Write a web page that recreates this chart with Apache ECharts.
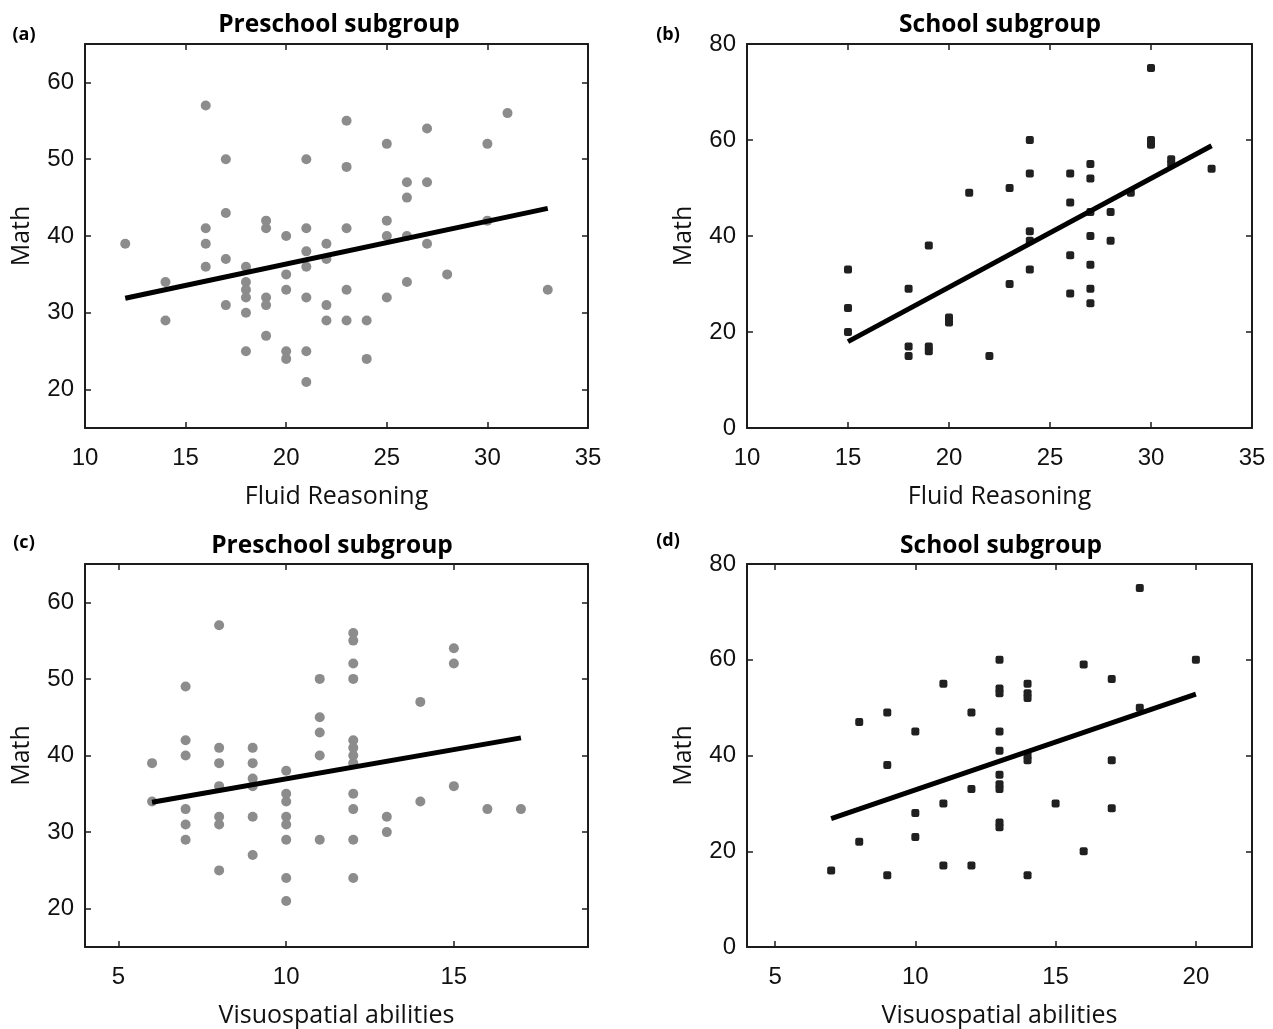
<!DOCTYPE html>
<html>
<head>
<meta charset="utf-8">
<script src="https://cdn.jsdelivr.net/npm/echarts@6/dist/echarts.min.js"></script>
<style>
html,body{margin:0;padding:0;background:#fff;}
#chart{width:1273px;height:1029px;}
</style>
</head>
<body>
<div id="chart"></div>
<script>
// ---- Data ----
// (a) Preschool subgroup: Fluid Reasoning vs Math
const preFluidX = [12,14,14,16,16,16,16,17,17,17,17,18,18,18,18,18,18,19,19,19,19,19,20,20,20,20,20,21,21,21,21,21,21,21,22,22,22,22,23,23,23,23,23,24,24,25,25,25,25,26,26,26,26,27,27,27,28,30,30,31,33];
const preFluidY = [39,34,29,57,41,39,36,50,43,37,31,36,34,33,32,30,25,42,41,32,31,27,40,35,33,25,24,50,41,38,36,32,25,21,39,37,31,29,55,49,41,33,29,29,24,52,42,40,32,47,45,40,34,54,47,39,35,52,42,56,33];
const preFluidFitX = [12,33];
const preFluidFitY = [31.9,43.6];

// (b) School subgroup: Fluid Reasoning vs Math
const schFluidX = [15,15,15,18,18,18,19,19,19,20,20,21,22,23,23,24,24,24,24,24,26,26,26,26,27,27,27,27,27,27,27,28,28,29,30,30,30,31,31,33];
const schFluidY = [33,25,20,29,17,15,38,17,16,23,22,49,15,50,30,60,53,41,39,33,53,47,36,28,55,52,45,40,34,29,26,45,39,49,75,60,59,56,55,54];
const schFluidFitX = [15,33];
const schFluidFitY = [18.0,58.8];

// (c) Preschool subgroup: Visuospatial abilities vs Math
const preVisX = [6,6,7,7,7,7,7,7,8,8,8,8,8,8,8,9,9,9,9,9,9,10,10,10,10,10,10,10,10,11,11,11,11,11,12,12,12,12,12,12,12,12,12,12,12,12,13,13,14,14,15,15,15,16,17];
const preVisY = [39,34,49,42,40,33,31,29,57,41,39,36,32,31,25,41,39,37,36,32,27,38,35,34,32,31,29,24,21,50,45,43,40,29,56,55,52,50,42,41,40,39,35,33,29,24,32,30,47,34,54,52,36,33,33];
const preVisFitX = [6,17];
const preVisFitY = [33.9,42.3];

// (d) School subgroup: Visuospatial abilities vs Math
const schVisX = [7,8,8,9,9,9,10,10,10,11,11,11,12,12,12,13,13,13,13,13,13,13,13,13,13,14,14,14,14,14,14,15,16,16,17,17,17,18,18,20];
const schVisY = [16,47,22,49,38,15,45,28,23,55,30,17,49,33,17,60,54,53,45,41,36,34,33,26,25,55,53,52,40,39,15,30,59,20,56,39,29,75,50,60];
const schVisFitX = [7,20];
const schVisFitY = [26.8,52.8];

// Tick labels
const ticksXFluid = [10,15,20,25,30,35];
const ticksXVis = [5,10,15];
const ticksXVisSchool = [5,10,15,20];
const ticksYPre = [20,30,40,50,60];
const ticksYSch = [0,20,40,60,80];

// Text
const titles = ['Preschool subgroup','School subgroup','Preschool subgroup','School subgroup'];
const panelTags = ['(a)','(b)','(c)','(d)'];
const xNames = ['Fluid Reasoning','Fluid Reasoning','Visuospatial abilities','Visuospatial abilities'];
const yName = 'Math';

// ---- Build chart ----
const zip = (xs, ys) => xs.map((x, i) => [x, ys[i]]);

const panels = [
  {grid:{left:85,top:44,width:503,height:384}, xr:[10,35], yr:[15,65], xt:ticksXFluid, yt:ticksYPre, pts:zip(preFluidX,preFluidY), fit:zip(preFluidFitX,preFluidFitY), school:false},
  {grid:{left:747,top:44,width:505,height:384}, xr:[10,35], yr:[0,80], xt:ticksXFluid, yt:ticksYSch, pts:zip(schFluidX,schFluidY), fit:zip(schFluidFitX,schFluidFitY), school:true},
  {grid:{left:85,top:564,width:503,height:384}, xr:[4,19], yr:[15,65], xt:ticksXVis, yt:ticksYPre, pts:zip(preVisX,preVisY), fit:zip(preVisFitX,preVisFitY), school:false},
  {grid:{left:747,top:564,width:505,height:384}, xr:[4,22], yr:[0,80], xt:ticksXVisSchool, yt:ticksYSch, pts:zip(schVisX,schVisY), fit:zip(schVisFitX,schVisFitY), school:true}
];

const lineCol = '#1c1c1c';
const axisLine = {show:true, onZero:false, lineStyle:{color:lineCol, width:2}};
const labelFont = {fontFamily:'Liberation Sans', fontSize:24, color:'#111'};
const nameFont = {fontFamily:'Open Sans', fontSize:25, color:'#111'};

const grids = [], xAxes = [], yAxes = [], series = [];
panels.forEach((p, i) => {
  grids.push(Object.assign({containLabel:false}, p.grid));
  // bottom x
  xAxes.push({
    type:'value', gridIndex:i, position:'bottom', min:p.xr[0], max:p.xr[1],
    axisLine:axisLine,
    axisTick:{show:true, inside:true, length:6, customValues:p.xt, lineStyle:{color:lineCol, width:1.5}},
    axisLabel:Object.assign({show:true, margin:18, customValues:p.xt}, labelFont),
    splitLine:{show:false},
    name:xNames[i], nameLocation:'middle', nameGap:56, nameTextStyle:nameFont
  });
  // top mirror x
  xAxes.push({
    type:'value', gridIndex:i, position:'top', min:p.xr[0], max:p.xr[1],
    axisLine:axisLine,
    axisTick:{show:true, inside:true, length:6, customValues:p.xt, lineStyle:{color:lineCol, width:1.5}},
    axisLabel:{show:false}, splitLine:{show:false}
  });
  // left y
  yAxes.push({
    type:'value', gridIndex:i, position:'left', min:p.yr[0], max:p.yr[1],
    axisLine:axisLine,
    axisTick:{show:true, inside:true, length:6, customValues:p.yt, lineStyle:{color:lineCol, width:1.5}},
    axisLabel:Object.assign({show:true, margin:11, customValues:p.yt}, labelFont),
    splitLine:{show:false},
    name:yName, nameLocation:'middle', nameGap:51, nameRotate:90, nameTextStyle:nameFont
  });
  // right mirror y
  yAxes.push({
    type:'value', gridIndex:i, position:'right', min:p.yr[0], max:p.yr[1],
    axisLine:axisLine,
    axisTick:{show:true, inside:true, length:6, customValues:p.yt, lineStyle:{color:lineCol, width:1.5}},
    axisLabel:{show:false}, splitLine:{show:false}
  });
  series.push({
    type:'scatter', xAxisIndex:2*i, yAxisIndex:2*i, data:p.pts,
    symbol: p.school ? 'roundRect' : 'circle',
    symbolSize: p.school ? 8 : 10,
    itemStyle:{color: p.school ? '#202020' : '#8c8c8c', opacity:1},
    z:2
  });
  series.push({
    type:'line', xAxisIndex:2*i, yAxisIndex:2*i, data:p.fit,
    symbol:'none', lineStyle:{color:'#000', width:5}, z:3
  });
});

const titlePos = [[339,25],[1000,25],[332,546],[1001,546]];
const tagPos = [[24,35],[668,35],[24,543],[668,541]];
const graphic = [];
titles.forEach((t, i) => {
  graphic.push({type:'text', x:titlePos[i][0], y:titlePos[i][1], style:{text:t, fill:'#000', font:'bold 24.5px "Open Sans"', textAlign:'center', textVerticalAlign:'middle'}});
  graphic.push({type:'text', x:tagPos[i][0], y:tagPos[i][1], style:{text:panelTags[i], fill:'#000', font:'bold 18px "Open Sans"', textAlign:'center', textVerticalAlign:'middle'}});
});

const chart = echarts.init(document.getElementById('chart'), null, {renderer:'canvas'});
chart.setOption({
  animation:false,
  backgroundColor:'#fff',
  grid:grids, xAxis:xAxes, yAxis:yAxes, series:series, graphic:graphic
});
</script>
</body>
</html>
